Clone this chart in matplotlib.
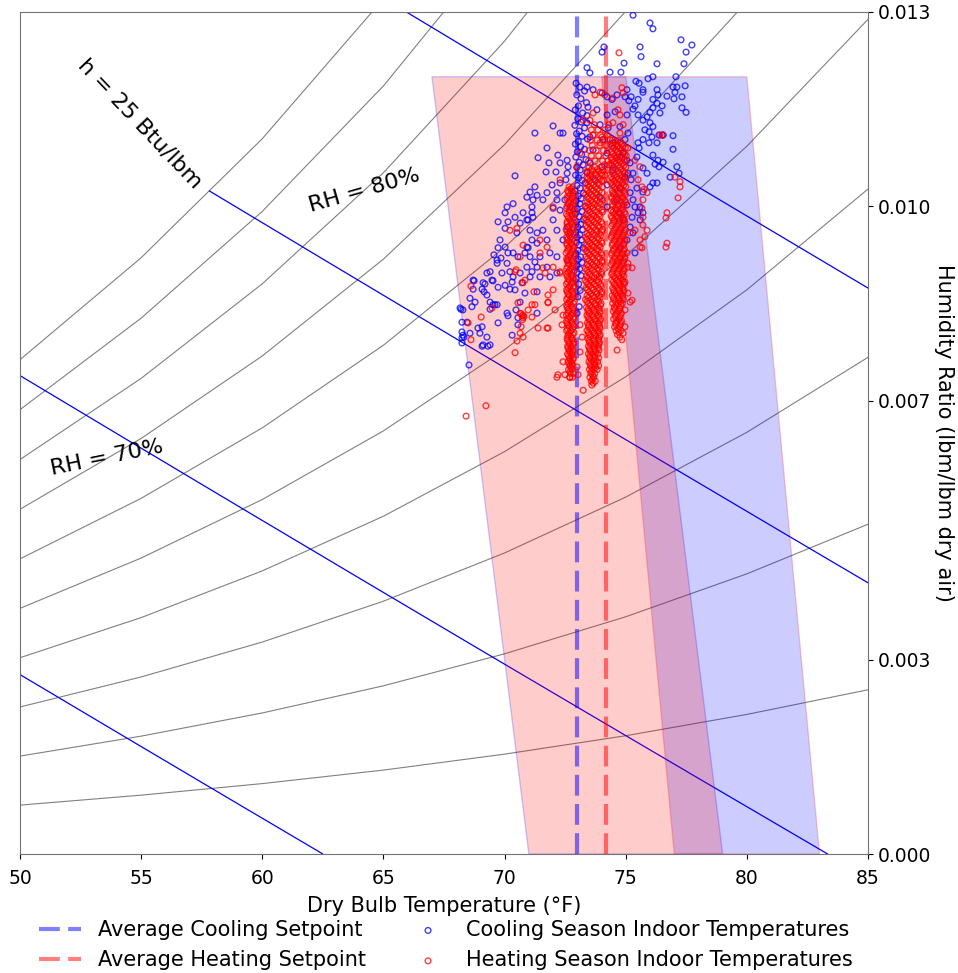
import numpy as np
import matplotlib.pyplot as plt
from matplotlib.ticker import FormatStrFormatter

# psychrometric background (saturation pressure table, psia)
t_table = [50, 55, 60, 65, 70, 75, 80, 85]
psat_table = [0.17813, 0.21434, 0.25638, 0.30548, 0.36334, 0.43016, 0.50745, 0.59659]
rh_levels = [0.1, 0.2, 0.3, 0.4, 0.5, 0.6, 0.7, 0.8, 0.9, 1.0]
h_levels = [15, 20, 25, 30, 35]
p_atm = 14.696

# comfort zones (dry bulb F, humidity ratio lbm/lbm)
heat_zone_t = [67, 75, 79, 71]
heat_zone_w = [0.012, 0.012, 0.0, 0.0]
cool_zone_t = [74, 80, 83, 77]
cool_zone_w = [0.012, 0.012, 0.0, 0.0]

cool_setpoint = 73.0
heat_setpoint = 74.2

# cooling season points: (temp F, humidity ratio g/kg)
cool_above = [(75.30, 12.95), (76.00, 12.83), (76.12, 12.74), (77.28, 12.57), (77.73, 12.49),
              (77.49, 12.38), (74.10, 12.46), (74.02, 12.38), (75.59, 12.46), (75.63, 12.31),
              (74.93, 12.21), (76.29, 12.20), (77.40, 12.20), (73.40, 12.14), (73.52, 12.06),
              (74.35, 12.07), (74.80, 12.07)]
cool_upper = [(75.42, 11.93), (75.55, 11.90), (75.71, 11.80), (76.12, 12.00), (75.92, 11.97),
              (76.29, 11.80), (76.33, 11.72), (76.70, 11.70), (77.03, 11.76), (77.11, 11.84),
              (77.07, 12.00), (77.45, 11.86), (76.99, 11.66), (77.32, 11.52), (77.49, 11.45),
              (76.12, 11.65), (76.29, 11.59), (76.12, 11.52), (76.00, 11.45), (75.88, 11.38),
              (75.71, 11.33), (75.51, 11.41), (75.30, 11.50), (75.13, 11.63), (75.22, 11.69),
              (75.51, 11.65), (76.00, 11.29), (76.12, 11.23), (75.96, 11.15), (76.08, 11.07),
              (76.37, 11.10), (76.50, 11.10), (76.95, 11.09), (76.29, 10.98), (75.96, 10.98),
              (75.71, 11.03), (75.51, 10.98), (75.55, 10.90), (75.46, 10.76), (76.12, 10.79),
              (76.33, 10.71), (76.21, 10.65), (76.37, 10.61), (77.11, 10.61), (77.20, 10.51),
              (76.95, 10.88), (75.71, 10.59), (75.88, 10.51), (76.12, 10.36), (76.29, 10.36),
              (75.59, 9.99), (75.71, 9.90), (75.30, 10.10), (75.09, 10.51), (74.89, 10.82),
              (75.05, 10.71), (75.30, 10.51), (75.22, 10.41), (75.46, 10.28), (76.50, 11.55),
              (76.41, 11.44), (75.79, 11.18), (76.54, 10.68), (76.83, 10.45), (76.00, 10.30),
              (76.95, 11.84), (77.32, 11.69), (75.05, 11.80), (75.71, 11.76), (75.38, 11.55),
              (75.71, 10.22), (76.54, 11.10)]
cool_column = [(72.95, 11.90), (73.10, 11.84), (73.30, 11.78), (72.98, 11.72), (73.15, 11.66),
               (73.38, 11.60), (73.05, 11.55), (72.92, 11.49), (73.22, 11.44), (73.40, 11.40),
               (73.02, 11.35), (73.16, 11.30), (72.90, 11.25), (73.30, 11.21), (73.08, 11.16),
               (72.97, 11.12), (73.20, 11.08), (73.42, 11.04), (73.04, 11.00), (72.92, 10.96),
               (73.14, 10.92), (73.30, 10.88), (73.00, 10.84), (73.18, 10.80), (72.94, 10.76),
               (73.36, 10.72), (73.08, 10.68), (73.24, 10.64), (72.98, 10.60), (73.12, 10.56),
               (73.40, 10.52), (72.93, 10.48), (73.06, 10.44), (73.20, 10.40), (73.32, 10.36),
               (72.99, 10.32), (73.12, 10.28), (72.90, 10.24), (73.26, 10.20), (73.04, 10.16),
               (73.16, 10.12), (72.95, 10.08), (73.10, 10.04), (73.34, 10.00), (73.00, 9.96),
               (73.20, 9.92), (72.92, 9.88), (73.08, 9.84), (73.26, 9.80), (72.97, 9.76),
               (73.14, 9.72), (73.02, 9.68), (73.22, 9.64), (72.94, 9.60), (73.10, 9.56),
               (73.00, 9.52), (73.18, 9.48), (72.96, 9.44), (73.08, 9.40), (73.24, 9.36),
               (73.02, 9.32), (72.93, 9.27), (73.14, 9.22), (73.04, 9.18), (73.20, 9.13),
               (72.98, 9.08), (73.10, 9.03), (73.00, 8.98), (73.16, 8.93), (72.95, 8.88),
               (73.06, 8.80), (73.12, 8.70), (73.02, 8.60), (73.08, 8.45), (72.99, 8.35)]
cool_mid = [(73.40, 11.84), (73.65, 11.80), (74.02, 11.75), (74.23, 11.69), (74.43, 11.65),
            (74.64, 11.72), (74.97, 11.69), (73.44, 11.53), (73.81, 11.49), (74.23, 11.41),
            (74.56, 11.46), (75.05, 11.41), (73.40, 11.29), (73.94, 11.26), (74.27, 11.21),
            (74.76, 11.23), (75.09, 11.13), (73.52, 11.07), (74.06, 11.03), (74.47, 10.98),
            (74.97, 11.03), (73.65, 10.87), (74.23, 10.82), (74.76, 10.76), (75.18, 10.67),
            (73.52, 10.67), (74.02, 10.61), (74.47, 10.56), (74.97, 10.45), (73.73, 10.41),
            (74.23, 10.33), (74.76, 10.28), (75.18, 10.21), (73.94, 10.14), (74.64, 10.10),
            (75.05, 10.02), (74.23, 9.99), (74.76, 9.90), (75.26, 9.83), (74.89, 9.79),
            (75.18, 9.68), (75.30, 9.59), (75.05, 9.48), (74.76, 9.37), (75.38, 9.99),
            (75.51, 9.90), (75.59, 9.79), (75.38, 9.28)]
cool_spread = [(72.00, 11.24), (72.29, 11.13), (72.41, 11.13), (72.20, 10.79), (72.29, 10.67),
               (72.58, 10.71), (72.62, 10.61), (72.58, 10.51), (72.53, 10.41), (71.96, 10.33),
               (72.16, 10.21), (71.75, 10.21), (71.83, 10.67), (72.12, 10.53), (71.71, 10.53),
               (71.75, 10.90), (71.38, 10.75), (71.25, 11.13), (72.16, 10.10), (72.00, 9.97),
               (72.29, 9.94), (72.00, 9.79), (72.16, 9.63), (71.75, 9.48), (71.87, 9.28),
               (72.16, 9.22), (71.75, 9.06), (71.87, 8.91), (72.16, 8.97), (72.41, 9.48),
               (72.58, 9.68), (72.62, 9.17), (72.49, 10.10), (72.29, 10.36), (72.70, 9.99),
               (72.70, 9.59)]
cool_left = [(70.43, 10.47), (71.25, 10.30), (71.05, 10.22), (71.34, 10.17), (71.58, 10.10),
             (71.17, 10.10), (70.92, 10.14), (71.13, 9.99), (70.35, 10.04), (70.10, 9.99),
             (70.02, 9.90), (70.43, 9.83), (70.14, 9.76), (70.02, 9.66), (69.81, 9.48),
             (69.73, 9.36), (69.56, 9.25), (70.02, 9.37), (70.14, 9.28), (70.10, 9.12),
             (69.69, 9.12), (69.89, 8.97), (69.27, 8.97), (69.48, 8.86), (69.73, 8.75),
             (69.11, 8.82), (68.70, 8.86), (69.07, 8.72), (69.27, 8.63), (69.40, 8.52),
             (69.60, 8.48), (68.78, 8.52), (68.65, 8.45), (68.28, 8.40), (68.16, 8.43),
             (68.24, 8.21), (68.45, 8.21), (68.24, 8.06), (68.32, 7.98), (68.24, 7.89),
             (68.53, 7.55), (68.90, 8.12), (69.07, 8.14), (69.27, 7.98), (69.40, 7.86),
             (69.11, 7.86), (70.92, 9.79), (71.17, 9.83), (71.05, 9.63), (71.34, 9.59),
             (71.58, 9.63), (71.34, 9.43), (70.92, 9.37), (71.05, 9.22), (71.46, 9.22),
             (71.34, 9.06), (70.92, 9.06), (70.64, 8.97), (71.05, 8.91), (71.46, 8.91),
             (70.35, 9.28), (70.51, 9.59), (70.64, 9.74), (70.76, 9.90), (70.22, 8.99),
             (70.35, 8.91), (70.31, 8.83), (68.74, 8.85), (69.19, 8.80), (69.52, 8.85),
             (70.02, 8.78), (70.22, 8.72), (70.43, 8.71), (69.15, 8.68), (68.70, 8.72),
             (68.57, 8.58), (69.52, 8.48), (69.69, 8.48), (69.40, 8.41), (68.20, 8.41),
             (68.57, 8.04), (68.98, 8.04), (69.07, 7.84), (69.31, 7.84), (69.73, 8.20),
             (70.14, 8.31), (70.10, 8.35), (70.47, 8.40), (70.55, 8.28), (70.55, 8.17),
             (70.31, 8.01), (70.64, 8.52), (70.84, 8.66), (71.34, 8.68), (71.34, 8.35),
             (68.24, 7.97), (68.28, 8.01), (71.13, 9.48), (70.97, 9.36), (71.25, 9.14),
             (70.84, 9.28), (70.55, 9.22), (70.72, 8.82), (71.13, 8.99), (69.69, 9.17),
             (69.85, 9.20), (69.40, 8.99), (69.73, 9.76), (70.97, 9.79), (71.13, 9.90)]

# heating season points: (temp F, humidity ratio g/kg)
heat_scatter = [(74.72, 12.37), (73.94, 11.76), (73.73, 11.72), (74.14, 11.72), (74.47, 11.67),
                (74.84, 11.83), (74.89, 11.75), (74.68, 11.49), (74.76, 11.41), (73.65, 11.44),
                (73.52, 11.33), (73.24, 11.33), (73.65, 11.10), (74.02, 11.07), (74.35, 11.03),
                (74.64, 10.92), (73.94, 10.98), (73.11, 10.82), (72.99, 10.61), (74.47, 11.29),
                (74.89, 11.26), (74.76, 11.13), (75.09, 10.90), (74.64, 10.76), (75.38, 10.71),
                (75.59, 10.61), (75.51, 10.41), (75.67, 10.30), (75.75, 10.26), (75.88, 10.21),
                (75.71, 10.10), (75.67, 9.97), (75.71, 9.83), (75.88, 9.63), (75.79, 9.53),
                (75.59, 9.48), (76.41, 11.10), (76.54, 11.10), (76.70, 9.90), (76.66, 9.82),
                (76.70, 9.43), (76.66, 9.37), (77.16, 10.13), (77.24, 10.38), (77.24, 10.30),
                (77.03, 10.45), (75.59, 9.37), (75.38, 9.63), (75.18, 9.59), (75.05, 9.28),
                (75.09, 9.06), (74.97, 8.83), (75.09, 8.66), (75.18, 8.52), (74.97, 8.40),
                (74.89, 8.04), (74.76, 7.98), (74.64, 7.78), (74.84, 7.94), (75.67, 9.36),
                (75.71, 9.71), (75.26, 9.05), (75.09, 9.12), (75.26, 8.55), (74.97, 8.14),
                (70.64, 9.22), (70.43, 8.99), (70.76, 8.82), (70.55, 8.51), (70.64, 8.35),
                (70.76, 8.32), (70.43, 7.74), (70.97, 8.40), (71.25, 8.48), (71.75, 8.12),
                (72.16, 7.36), (72.70, 7.36), (73.24, 7.16), (70.64, 8.04), (71.38, 8.12),
                (71.79, 8.52), (72.00, 8.71), (72.29, 8.97), (71.46, 9.48), (70.51, 9.66),
                (70.22, 9.63), (70.76, 9.40), (72.00, 9.99), (72.29, 10.41), (68.61, 8.77),
                (69.03, 8.29), (68.49, 8.20), (69.48, 8.43), (71.13, 8.48), (70.47, 9.02),
                (70.84, 8.86), (71.21, 8.68), (70.72, 8.31), (70.76, 8.28), (70.68, 8.34),
                (70.80, 8.30), (70.74, 8.25), (71.13, 8.29), (70.68, 8.14), (70.76, 7.98),
                (70.51, 7.92), (68.61, 7.94), (69.23, 6.92), (68.41, 6.76), (71.58, 9.05),
                (71.67, 8.97), (72.00, 9.06), (72.29, 8.99), (71.79, 8.63), (71.79, 8.51),
                (72.08, 8.40), (71.79, 8.12), (72.41, 8.32), (72.37, 8.17), (72.41, 7.60),
                (72.20, 7.40), (72.49, 7.40), (73.03, 7.40), (72.99, 7.52), (73.11, 7.75),
                (73.20, 7.98), (73.11, 8.17), (71.46, 9.28), (71.75, 9.37)]

# dense heating columns: (humidity ratio g/kg, temps F ...)
heat_stripe_a = [(10.30, 72.66, 72.82), (10.24, 72.60, 72.76), (10.18, 72.70, 72.88),
                 (10.12, 72.57, 72.78), (10.06, 72.64, 72.84), (10.00, 72.58, 72.74),
                 (9.94, 72.68, 72.88), (9.88, 72.55, 72.78), (9.82, 72.64, 72.86),
                 (9.76, 72.58, 72.74), (9.70, 72.66, 72.90), (9.64, 72.54, 72.80),
                 (9.58, 72.62, 72.84), (9.52, 72.56, 72.72), (9.46, 72.66, 72.88),
                 (9.40, 72.58, 72.80), (9.34, 72.62, 72.84), (9.28, 72.54, 72.74),
                 (9.22, 72.64, 72.88), (9.16, 72.58, 72.78), (9.10, 72.66, 72.86),
                 (9.04, 72.56, 72.74), (8.98, 72.62, 72.84), (8.92, 72.58, 72.80),
                 (8.86, 72.66, 72.88), (8.80, 72.55, 72.76), (8.74, 72.62, 72.84),
                 (8.68, 72.58, 72.80), (8.62, 72.66, 72.86), (8.56, 72.56, 72.74),
                 (8.50, 72.62, 72.84), (8.44, 72.58, 72.80), (8.38, 72.66, 72.88),
                 (8.32, 72.55, 72.76), (8.26, 72.62, 72.84), (8.20, 72.58, 72.78),
                 (8.14, 72.66, 72.86), (8.08, 72.56, 72.74), (8.02, 72.62, 72.82),
                 (7.96, 72.58, 72.78), (7.90, 72.66, 72.86), (7.84, 72.60, 72.76),
                 (7.78, 72.66, 72.82), (7.72, 72.60, 72.78), (7.66, 72.68, 72.84),
                 (7.60, 72.62, 72.76), (7.54, 72.70, 72.82), (7.48, 72.64, 72.78),
                 (7.42, 72.72, 72.84), (7.36, 72.68, 72.80)]
heat_stripe_a2 = [(10.27, 72.74), (10.21, 72.64, 72.84), (10.15, 72.60, 72.80), (10.09, 72.70, 72.88),
                  (10.03, 72.62, 72.82), (9.97, 72.56, 72.78), (9.91, 72.66, 72.86), (9.85, 72.60, 72.80),
                  (9.79, 72.70, 72.88), (9.73, 72.58, 72.76), (9.67, 72.64, 72.86), (9.61, 72.58, 72.72),
                  (9.55, 72.68, 72.88), (9.49, 72.60, 72.80), (9.43, 72.56, 72.74), (9.37, 72.66, 72.86),
                  (9.31, 72.60, 72.80), (9.25, 72.70, 72.88), (9.19, 72.56, 72.74), (9.13, 72.62, 72.82),
                  (9.07, 72.60, 72.80), (9.01, 72.68, 72.88), (8.95, 72.56, 72.74), (8.89, 72.62, 72.82),
                  (8.83, 72.60, 72.80), (8.77, 72.68, 72.86), (8.71, 72.56, 72.74), (8.65, 72.62, 72.82),
                  (8.59, 72.60, 72.80), (8.53, 72.68, 72.88), (8.47, 72.56, 72.74), (8.41, 72.62, 72.82),
                  (8.35, 72.60, 72.80), (8.29, 72.68, 72.86), (8.23, 72.56, 72.74), (8.17, 72.62, 72.82),
                  (8.11, 72.60, 72.80), (8.05, 72.68, 72.86), (7.99, 72.62, 72.74), (7.93, 72.60, 72.80),
                  (7.87, 72.68, 72.84), (7.81, 72.62, 72.74), (7.75, 72.70, 72.80), (7.69, 72.64, 72.76),
                  (7.63, 72.70, 72.82), (7.57, 72.66, 72.78), (7.51, 72.74), (7.45, 72.70)]
heat_stripe_b = [(10.60, 73.48, 73.72, 73.96), (10.54, 73.40, 73.62, 73.88), (10.48, 73.52, 73.78, 74.02),
                 (10.42, 73.44, 73.66, 73.92), (10.36, 73.36, 73.58, 73.84), (10.30, 73.50, 73.76, 74.04),
                 (10.24, 73.42, 73.66, 73.90), (10.18, 73.34, 73.56, 73.82), (10.12, 73.48, 73.74, 74.00),
                 (10.06, 73.40, 73.64, 73.92), (10.00, 73.34, 73.58, 73.84), (9.94, 73.46, 73.72, 74.02),
                 (9.88, 73.38, 73.62, 73.90), (9.82, 73.32, 73.56, 73.80), (9.76, 73.44, 73.70, 73.98),
                 (9.70, 73.36, 73.62, 73.88), (9.64, 73.50, 73.76, 74.04), (9.58, 73.40, 73.66, 73.92),
                 (9.52, 73.34, 73.58, 73.84), (9.46, 73.46, 73.72, 74.00), (9.40, 73.38, 73.62, 73.90),
                 (9.34, 73.32, 73.56, 73.82), (9.28, 73.44, 73.70, 73.98), (9.22, 73.36, 73.62, 73.88),
                 (9.16, 73.48, 73.74, 74.02), (9.10, 73.40, 73.64, 73.92), (9.04, 73.34, 73.58, 73.84),
                 (8.98, 73.46, 73.72, 74.00), (8.92, 73.38, 73.62, 73.90), (8.86, 73.32, 73.56, 73.82),
                 (8.80, 73.44, 73.70, 73.96), (8.74, 73.36, 73.62, 73.88), (8.68, 73.48, 73.74, 74.00),
                 (8.62, 73.40, 73.64, 73.90), (8.56, 73.34, 73.58, 73.84), (8.50, 73.46, 73.72, 73.98),
                 (8.44, 73.38, 73.62, 73.88), (8.38, 73.44, 73.68, 73.94), (8.32, 73.40, 73.62, 73.86),
                 (8.26, 73.48, 73.72, 73.96), (8.20, 73.42, 73.64, 73.88), (8.14, 73.46, 73.70, 73.92),
                 (8.08, 73.40, 73.62, 73.86), (8.02, 73.48, 73.72, 73.94), (7.96, 73.44, 73.66, 73.88),
                 (7.90, 73.50, 73.72, 73.92), (7.84, 73.46, 73.66, 73.86), (7.78, 73.52, 73.72, 73.90),
                 (7.72, 73.46, 73.64, 73.84), (7.66, 73.52, 73.70, 73.88), (7.60, 73.48, 73.66, 73.84),
                 (7.54, 73.54, 73.72, 73.88), (7.48, 73.50, 73.66, 73.82), (7.42, 73.56, 73.72),
                 (7.36, 73.52, 73.68), (7.30, 73.58, 73.74), (7.24, 73.60)]
heat_stripe_b2 = [(10.57, 73.60, 73.84), (10.51, 73.52, 73.76, 73.98), (10.45, 73.40, 73.62, 73.86),
                  (10.39, 73.50, 73.76, 74.00), (10.33, 73.44, 73.66, 73.90), (10.27, 73.36, 73.58, 73.82),
                  (10.21, 73.50, 73.76, 74.02), (10.15, 73.42, 73.64, 73.90), (10.09, 73.56, 73.80, 74.04),
                  (10.03, 73.46, 73.70, 73.96), (9.97, 73.40, 73.64, 73.90), (9.91, 73.52, 73.78, 74.04),
                  (9.85, 73.44, 73.68, 73.94), (9.79, 73.38, 73.62, 73.86), (9.73, 73.50, 73.76, 74.02),
                  (9.67, 73.42, 73.66, 73.92), (9.61, 73.56, 73.80, 74.00), (9.55, 73.46, 73.70, 73.96),
                  (9.49, 73.40, 73.64, 73.88), (9.43, 73.52, 73.78, 74.02), (9.37, 73.44, 73.68, 73.94),
                  (9.31, 73.38, 73.62, 73.88), (9.25, 73.50, 73.76, 74.00), (9.19, 73.42, 73.66, 73.92),
                  (9.13, 73.56, 73.80, 74.02), (9.07, 73.46, 73.70, 73.96), (9.01, 73.40, 73.64, 73.88),
                  (8.95, 73.52, 73.78, 74.00), (8.89, 73.44, 73.68, 73.94), (8.83, 73.38, 73.62, 73.88),
                  (8.77, 73.50, 73.76, 73.98), (8.71, 73.42, 73.66, 73.92), (8.65, 73.56, 73.80, 74.00),
                  (8.59, 73.46, 73.70, 73.94), (8.53, 73.40, 73.64, 73.88), (8.47, 73.52, 73.76, 73.96),
                  (8.41, 73.44, 73.68, 73.90), (8.35, 73.50, 73.74, 73.94), (8.29, 73.44, 73.66, 73.90),
                  (8.23, 73.52, 73.76, 73.94), (8.17, 73.46, 73.68, 73.90), (8.11, 73.54, 73.76, 73.94),
                  (8.05, 73.46, 73.68, 73.88), (7.99, 73.54, 73.76, 73.92), (7.93, 73.48, 73.68, 73.88),
                  (7.87, 73.56, 73.76, 73.90), (7.81, 73.50, 73.70, 73.86), (7.75, 73.56, 73.76),
                  (7.69, 73.52, 73.72), (7.63, 73.58, 73.76), (7.57, 73.54, 73.72), (7.51, 73.60, 73.76),
                  (7.45, 73.58), (7.39, 73.64), (7.33, 73.62), (7.27, 73.66)]
heat_stripe_c = [(11.02, 74.45, 74.70), (10.96, 74.38, 74.60, 74.84), (10.90, 74.50, 74.76, 74.98),
                 (10.84, 74.42, 74.66, 74.90), (10.78, 74.54, 74.80, 75.02), (10.72, 74.44, 74.68, 74.92),
                 (10.66, 74.38, 74.60, 74.86), (10.60, 74.50, 74.76, 75.00), (10.54, 74.42, 74.66, 74.90),
                 (10.48, 74.54, 74.80, 75.04), (10.42, 74.46, 74.70, 74.94), (10.36, 74.40, 74.62, 74.86),
                 (10.30, 74.52, 74.78, 75.00), (10.24, 74.44, 74.68, 74.92), (10.18, 74.50, 74.74, 74.98),
                 (10.12, 74.42, 74.64, 74.88), (10.06, 74.54, 74.78, 75.00), (10.00, 74.46, 74.70, 74.92),
                 (9.94, 74.40, 74.62, 74.86), (9.88, 74.52, 74.76, 74.98), (9.82, 74.44, 74.68, 74.90),
                 (9.76, 74.50, 74.74, 74.96), (9.70, 74.42, 74.64, 74.88), (9.64, 74.54, 74.78, 74.98),
                 (9.58, 74.46, 74.70, 74.92), (9.52, 74.40, 74.62, 74.86), (9.46, 74.52, 74.76, 74.96),
                 (9.40, 74.44, 74.68, 74.90), (9.34, 74.50, 74.72, 74.94), (9.28, 74.42, 74.64, 74.88),
                 (9.22, 74.54, 74.76, 74.96), (9.16, 74.46, 74.68, 74.90), (9.10, 74.40, 74.62, 74.84),
                 (9.04, 74.52, 74.74, 74.94), (8.98, 74.44, 74.66, 74.88), (8.92, 74.50, 74.72, 74.92),
                 (8.86, 74.42, 74.64, 74.86), (8.80, 74.54, 74.76, 74.94), (8.74, 74.46, 74.68, 74.88),
                 (8.68, 74.52, 74.74, 74.92), (8.62, 74.44, 74.66, 74.86), (8.56, 74.50, 74.72, 74.90),
                 (8.50, 74.46, 74.68, 74.86), (8.44, 74.52, 74.74), (8.38, 74.48, 74.70),
                 (8.32, 74.56, 74.78), (8.26, 74.50, 74.72), (8.20, 74.58, 74.80),
                 (8.14, 74.54, 74.74), (8.08, 74.60, 74.80), (8.02, 74.66)]
heat_stripe_c2 = [(10.99, 74.56, 74.80), (10.93, 74.44, 74.66, 74.88), (10.87, 74.58, 74.82),
                  (10.81, 74.48, 74.72, 74.96), (10.75, 74.40, 74.62, 74.86), (10.69, 74.52, 74.76, 74.98),
                  (10.63, 74.44, 74.68, 74.92), (10.57, 74.58, 74.82), (10.51, 74.48, 74.72, 74.96),
                  (10.45, 74.40, 74.62, 74.86), (10.39, 74.52, 74.76, 74.98), (10.33, 74.46, 74.70, 74.92),
                  (10.27, 74.58, 74.82), (10.21, 74.48, 74.72, 74.96), (10.15, 74.40, 74.62, 74.86),
                  (10.09, 74.52, 74.76, 74.96), (10.03, 74.44, 74.68, 74.90), (9.97, 74.58, 74.82),
                  (9.91, 74.48, 74.70, 74.94), (9.85, 74.40, 74.62, 74.84), (9.79, 74.52, 74.76, 74.94),
                  (9.73, 74.46, 74.70, 74.92), (9.67, 74.58, 74.82), (9.61, 74.48, 74.72, 74.94),
                  (9.55, 74.42, 74.64, 74.88), (9.49, 74.54, 74.78, 74.96), (9.43, 74.46, 74.70, 74.92),
                  (9.37, 74.58, 74.80), (9.31, 74.48, 74.70, 74.92), (9.25, 74.42, 74.64, 74.86),
                  (9.19, 74.54, 74.78, 74.96), (9.13, 74.46, 74.70, 74.90), (9.07, 74.56, 74.80),
                  (9.01, 74.48, 74.70, 74.92), (8.95, 74.42, 74.64, 74.86), (8.89, 74.56, 74.78),
                  (8.83, 74.48, 74.70, 74.90), (8.77, 74.58, 74.80), (8.71, 74.50, 74.72, 74.90),
                  (8.65, 74.58, 74.80), (8.59, 74.50, 74.70, 74.88), (8.53, 74.58, 74.78),
                  (8.47, 74.60, 74.80), (8.41, 74.56, 74.76), (8.35, 74.62, 74.82), (8.29, 74.58, 74.76),
                  (8.23, 74.64, 74.82), (8.17, 74.60, 74.78), (8.11, 74.68), (8.05, 74.72)]
heat_join = [(11.26, 73.70, 74.30), (11.18, 73.58, 73.86, 74.14), (11.10, 73.66, 73.96, 74.24),
             (11.02, 73.54, 73.82, 74.12), (10.94, 73.62, 73.92, 74.20), (10.86, 73.50, 73.78, 74.08),
             (10.78, 73.58, 73.88, 74.18), (10.70, 73.46, 73.74, 74.04, 74.26), (10.64, 74.12, 74.30),
             (10.56, 74.06, 74.24), (10.48, 74.14), (10.40, 74.08)]

# ---- build arrays
cool_pts = cool_above + cool_upper + cool_column + cool_mid + cool_spread + cool_left
cool_t = np.array([p[0] for p in cool_pts])
cool_w = np.array([p[1] for p in cool_pts]) / 1000

heat_t = [p[0] for p in heat_scatter]
heat_w = [p[1] for p in heat_scatter]
stripes = (heat_stripe_a + heat_stripe_a2 + heat_stripe_b + heat_stripe_b2
           + heat_stripe_c + heat_stripe_c2 + heat_join)
for row in stripes:
    for t in row[1:]:
        heat_t.append(t)
        heat_w.append(row[0])
heat_t = np.array(heat_t)
heat_w = np.array(heat_w) / 1000

fig = plt.figure(figsize=(9.58, 9.73), dpi=100)
ax = fig.add_axes([0.0209, 0.1223, 0.8852, 0.8654])

# RH curves
psat = np.array(psat_table)
for rh in rh_levels:
    w = 0.622 * rh * psat / (p_atm - rh * psat)
    ax.plot(t_table, w, color='gray', lw=0.8, zorder=1)

# enthalpy lines, from saturation down to dry air
w_sat = 0.622 * psat / (p_atm - psat)
tt = np.arange(40, 150, 0.02)
for h in h_levels:
    wh = (h - 0.240 * tt) / (1061 + 0.444 * tt)
    ok = (wh <= np.interp(tt, t_table, w_sat)) & (wh >= 0)
    ax.plot(tt[ok], wh[ok], color='blue', lw=0.9, zorder=1)

# comfort zones
ax.fill(cool_zone_t, cool_zone_w, facecolor=(0, 0, 1, 0.2), edgecolor=(1, 0, 0, 0.2), lw=1, zorder=2)
ax.fill(heat_zone_t, heat_zone_w, facecolor=(1, 0, 0, 0.2), edgecolor=(0, 0, 1, 0.2), lw=1, zorder=2)

l1 = ax.axvline(cool_setpoint, color='blue', alpha=0.5, lw=3, ls=(0, (5, 2)), zorder=3,
                label='Average Cooling Setpoint')
l2 = ax.axvline(heat_setpoint, color='red', alpha=0.5, lw=3, ls=(0, (5, 2)), zorder=3,
                label='Average Heating Setpoint')

s1 = ax.scatter(cool_t, cool_w, s=17, facecolors='none', edgecolors='blue', linewidths=1,
                alpha=0.75, zorder=4, label='Cooling Season Indoor Temperatures')
s2 = ax.scatter(heat_t, heat_w, s=17, facecolors='none', edgecolors='red', linewidths=1,
                alpha=0.75, zorder=5, label='Heating Season Indoor Temperatures')

# labels on the chart
ax.text(54.95, 0.01128, 'h = 25 Btu/lbm', fontsize=16, rotation=-46.5,
        ha='center', va='center', rotation_mode='anchor')
ax.text(64.2, 0.01024, 'RH = 80%', fontsize=16, rotation=16,
        ha='center', va='center', rotation_mode='anchor')
ax.text(53.6, 0.00612, 'RH = 70%', fontsize=16, rotation=11.5,
        ha='center', va='center', rotation_mode='anchor')

ax.set_xlim(50, 85)
ax.set_ylim(0, 0.013)
ax.set_xticks([50, 55, 60, 65, 70, 75, 80, 85])
ax.yaxis.tick_right()
ax.yaxis.set_label_position('right')
ax.set_yticks([0, 0.003, 0.007, 0.010, 0.013])
ax.yaxis.set_major_formatter(FormatStrFormatter('%.3f'))
ax.tick_params(labelsize=13.5)
ax.tick_params(axis='x', pad=7)
for sp in ax.spines.values():
    sp.set_color('0.45')

ax.set_xlabel('Dry Bulb Temperature (°F)', fontsize=15, labelpad=6)
ax.set_ylabel('Humidity Ratio (lbm/lbm dry air)', fontsize=15, rotation=270, va='bottom', labelpad=2)

ax.legend(handles=[l1, l2, s1, s2], ncol=2, frameon=False, fontsize=15,
          loc='upper center', bbox_to_anchor=(0.502, -0.056))

fig.savefig('out.png', dpi=100)
